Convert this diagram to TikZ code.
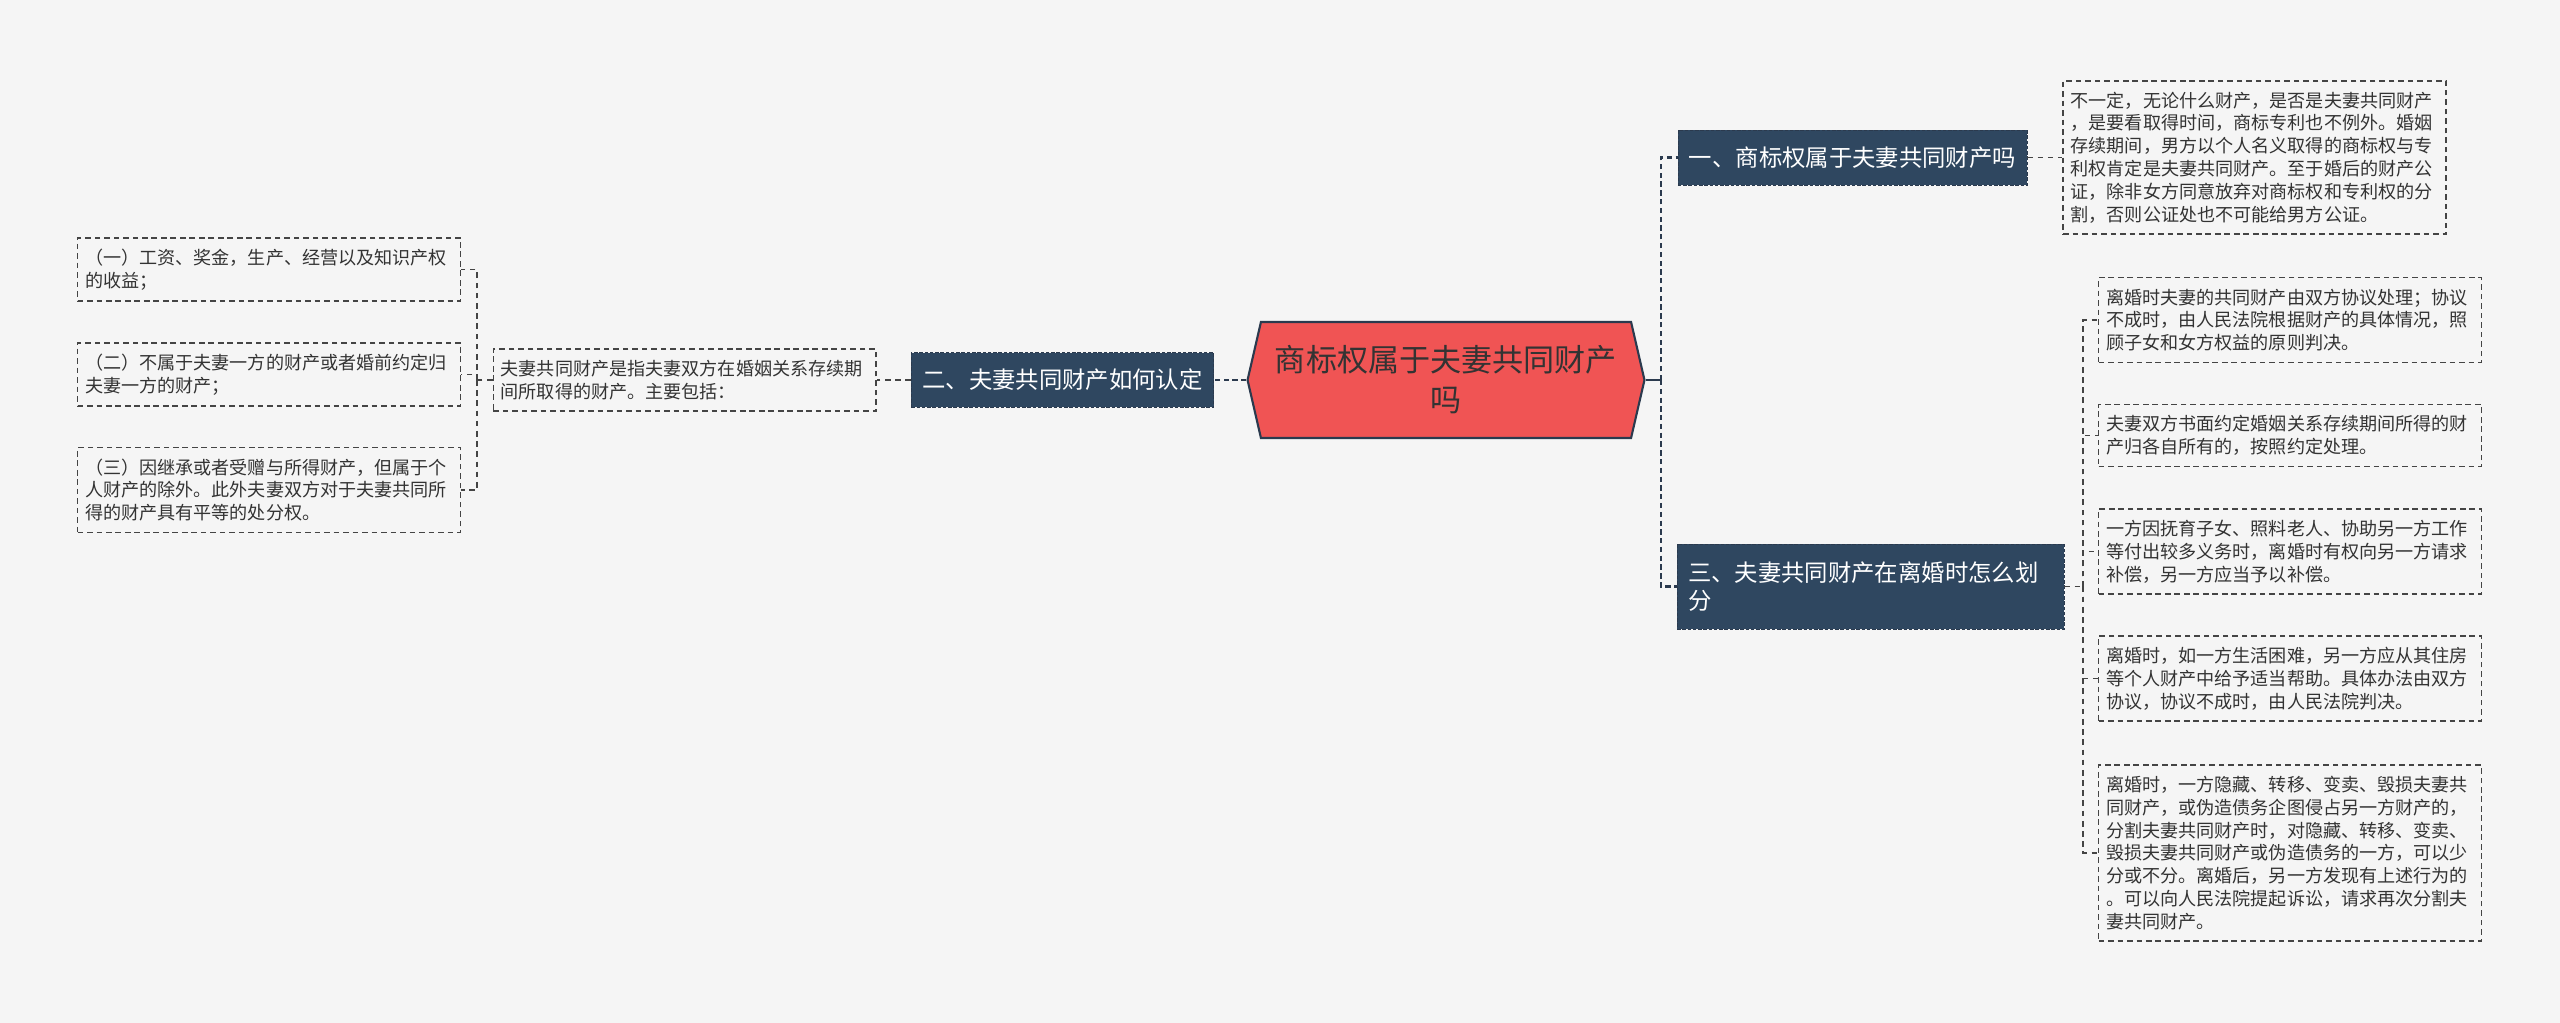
\documentclass[tikz,border=0pt]{standalone}
\usepackage{fontspec}
\setmainfont{Noto Sans CJK SC}
\usepackage{tikz}
\usetikzlibrary{shapes.symbols, positioning, calc}
\definecolor{bgGray}{HTML}{F5F5F5}
\definecolor{rootRed}{HTML}{F05454}
\definecolor{navy}{HTML}{2F4760}
\definecolor{lineNavy}{HTML}{2B3A4E}
\definecolor{leafGray}{HTML}{444444}
\definecolor{txtGray}{HTML}{333333}

\begin{document}
\begin{tikzpicture}[
        x=0.02cm, y=-0.02cm,
        % Global Styles
        root/.style={signal, signal to=east and west, signal pointer angle=154, draw=lineNavy, line width=1.2pt, fill=rootRed, text=txtGray, align=center, minimum width=7.94cm, minimum height=2.32cm, font=\fontsize{17.7}{22.7}\selectfont},
        branch/.style={rectangle, draw=lineNavy, dash pattern=on 2pt off 1pt, fill=navy, text=white, align=left, inner xsep=0.22cm, minimum height=1.1cm, font=\fontsize{13.3}{16}\selectfont},
        leaf/.style={rectangle, draw=leafGray, line width=0.85pt, dash pattern=on 3.2pt off 2.2pt, text=txtGray, align=left, minimum width=7.66cm, text width=7.36cm, inner xsep=0.15cm, inner ysep=0.22cm, font=\fontsize{10.3}{13}\selectfont},
        trunk/.style={draw=lineNavy, line width=1.2pt},
        link/.style={draw=lineNavy, line width=1.2pt, dash pattern=on 3pt off 2pt},
        twig/.style={draw=leafGray, line width=0.85pt, dash pattern=on 3.2pt off 2.6pt}
    ]

    % --- Canvas ---
    \fill [bgGray] (0,0) rectangle (2560,1023);
    \useasboundingbox (0,0) rectangle (2560,1023);

    % --- Centre ---
    \node (root) [root] at (1446,380) {商标权属于夫妻共同财产\\吗};

    % --- Right: branch one ---
    \node (b1) [branch] at (1852.5,157.5) {一、商标权属于夫妻共同财产吗};
    \node (leaf1) [leaf, right=0.7cm of b1] {不一定，无论什么财产，是否是夫妻共同财产\\，是要看取得时间，商标专利也不例外。婚姻\\存续期间，男方以个人名义取得的商标权与专\\利权肯定是夫妻共同财产。至于婚后的财产公\\证，除非女方同意放弃对商标权和专利权的分\\割，否则公证处也不可能给男方公证。};

    % --- Right: branch three ---
    \node (b3) [branch, minimum width=7.74cm, text width=7.3cm, minimum height=1.7cm] at (1870.5,586.5) {三、夫妻共同财产在离婚时怎么划\\分};
    \node (la) [leaf] at (2290,320) {离婚时夫妻的共同财产由双方协议处理；协议\\不成时，由人民法院根据财产的具体情况，照\\顾子女和女方权益的原则判决。};
    \node (lb) [leaf] at (2290,435.5) {夫妻双方书面约定婚姻关系存续期间所得的财\\产归各自所有的，按照约定处理。};
    \node (lc) [leaf] at (2290,551.5) {一方因抚育子女、照料老人、协助另一方工作\\等付出较多义务时，离婚时有权向另一方请求\\补偿，另一方应当予以补偿。};
    \node (ld) [leaf] at (2290,678.5) {离婚时，如一方生活困难，另一方应从其住房\\等个人财产中给予适当帮助。具体办法由双方\\协议，协议不成时，由人民法院判决。};
    \node (le) [leaf] at (2290,853) {离婚时，一方隐藏、转移、变卖、毁损夫妻共\\同财产，或伪造债务企图侵占另一方财产的，\\分割夫妻共同财产时，对隐藏、转移、变卖、\\毁损夫妻共同财产或伪造债务的一方，可以少\\分或不分。离婚后，另一方发现有上述行为的\\。可以向人民法院提起诉讼，请求再次分割夫\\妻共同财产。};

    % --- Left: branch two ---
    \node (b2) [branch] at (1062.5,380) {二、夫妻共同财产如何认定};
    \node (mid) [leaf, left=0.68cm of b2] {夫妻共同财产是指夫妻双方在婚姻关系存续期\\间所取得的财产。主要包括：};
    \node (ga) [leaf] at (269,269.5) {（一）工资、奖金，生产、经营以及知识产权\\的收益；};
    \node (gb) [leaf] at (269,374.5) {（二）不属于夫妻一方的财产或者婚前约定归\\夫妻一方的财产；};
    \node (gc) [leaf] at (269,490) {（三）因继承或者受赠与所得财产，但属于个\\人财产的除外。此外夫妻双方对于夫妻共同所\\得的财产具有平等的处分权。};

    % --- CONNECTION LOGIC ---
    \coordinate (rj) at (1661,380);
    \coordinate (j3) at (2083,586.5);
    \coordinate (jl) at (477,380);

    % Centre to branches
    \draw [trunk] (root.east) -- (rj);
    \draw [link] (rj) |- (b1.west);
    \draw [link] (rj) |- (b3.west);
    \draw [link] (root.west) -- (b2.east);

    % Branches to leaves
    \draw [twig] (b1.east) -- (leaf1.west);
    \draw [twig] (b3.east) -- (j3);
    \foreach \n in {la,lb,lc,ld,le}
        \draw [twig] (j3) |- (\n.west);
    \draw [twig] (b2.west) -- (mid.east);
    \draw [twig] (mid.west) -- (jl);
    \foreach \n in {ga,gb,gc}
        \draw [twig] (jl) |- (\n.east);

\end{tikzpicture}
\end{document}
